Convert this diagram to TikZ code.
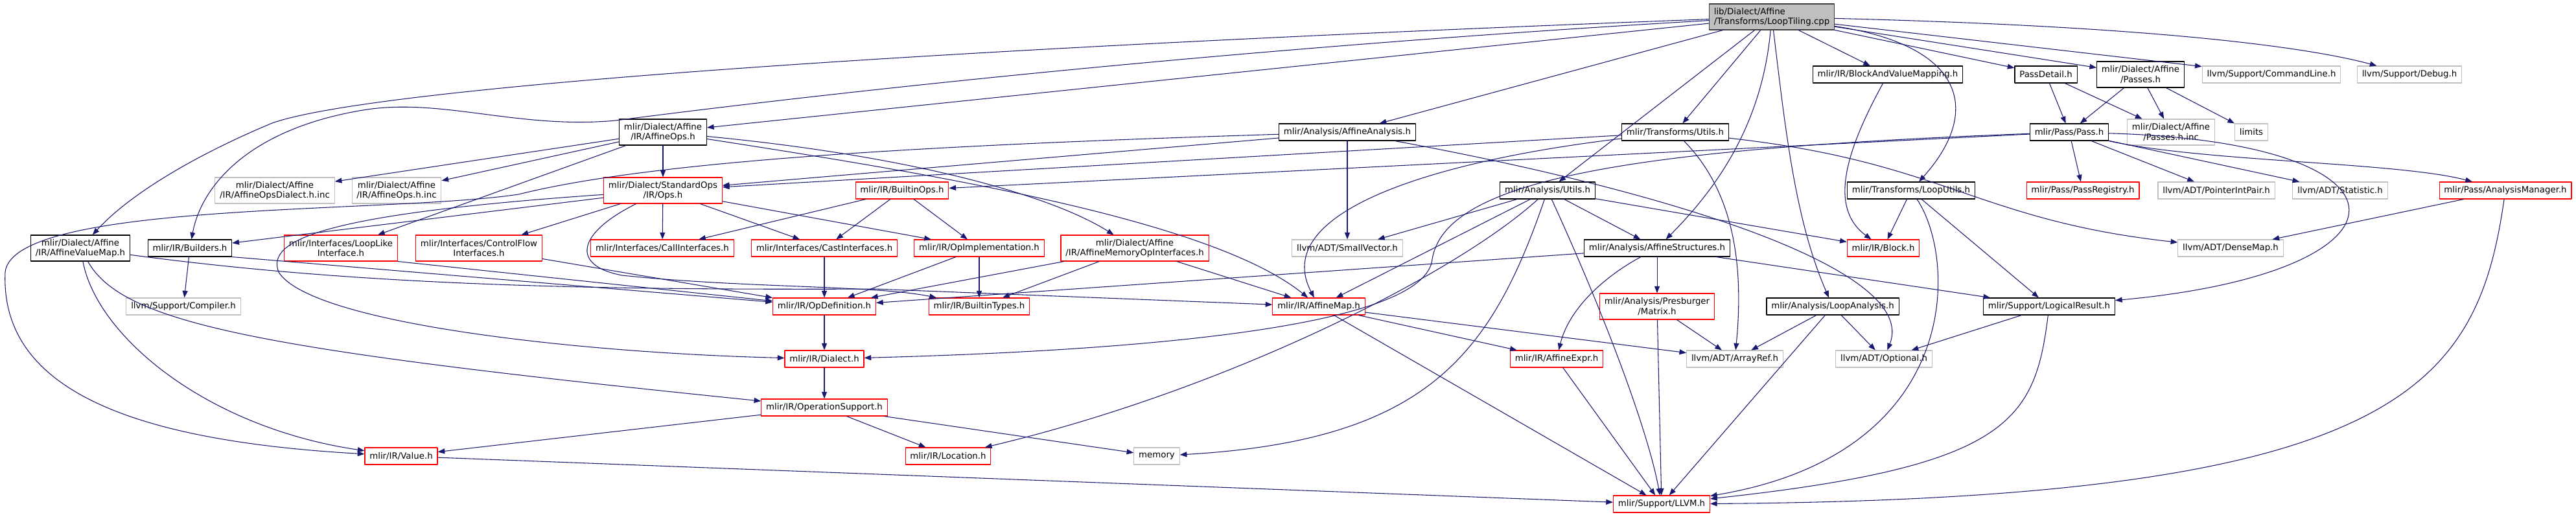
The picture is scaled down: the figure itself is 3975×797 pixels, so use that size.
\documentclass[tikz,border=0pt]{standalone}
\usepackage{fontspec}
\setmainfont{DejaVu Sans}
\usepackage{tikz}
\usetikzlibrary{arrows.meta}
\definecolor{edgeblue}{HTML}{191970}
\definecolor{extgrey}{HTML}{BFBFBF}
\definecolor{rootgrey}{HTML}{404040}
\definecolor{trred}{HTML}{FF0000}
\tikzset{
  every picture/.style={line join=round, line cap=round},
  incl/.style={draw=edgeblue, line width=0.8pt, -{Triangle[length=8pt,width=6pt]}},
  hdr/.style={draw, line width=0.8pt, inner xsep=5.5pt, inner ysep=0pt, minimum height=19.5pt, font=\fontsize{10pt}{11.5pt}\selectfont, align=center},
  doc/.style={hdr, draw=black},
  trunc/.style={hdr, draw=trred},
  ext/.style={hdr, draw=extgrey},
  file/.style={hdr, draw=rootgrey, fill=extgrey, align=left},
  two/.style={minimum height=30pt},
}

\begin{document}
\begin{tikzpicture}[x=0.75pt,y=-0.75pt]
\useasboundingbox (0,0) rectangle (3975,797);
\node[file,two] (root) at (2734,26) {lib/Dialect/Affine\\/Transforms/LoopTiling.cpp};
\node[doc,two] (avm) at (124,383) {mlir/Dialect/Affine\\/IR/AffineValueMap.h};
\node[doc] (builders) at (293,383) {mlir/IR/Builders.h};
\node[doc,two] (aops) at (1023,204) {mlir/Dialect/Affine\\/IR/AffineOps.h};
\node[ext,two] (aopsdialect) at (424,294) {mlir/Dialect/Affine\\/IR/AffineOpsDialect.h.inc};
\node[ext,two] (aopsinc) at (612,294) {mlir/Dialect/Affine\\/IR/AffineOps.h.inc};
\node[trunc,two] (stdops) at (1023,294) {mlir/Dialect/StandardOps\\/IR/Ops.h};
\node[trunc,two] (looplike) at (526,383) {mlir/Interfaces/LoopLike\\Interface.h};
\node[trunc,two] (controlflow) at (739,383) {mlir/Interfaces/ControlFlow\\Interfaces.h};
\node[trunc] (callif) at (1022,383) {mlir/Interfaces/CallInterfaces.h};
\node[trunc] (castif) at (1272,383) {mlir/Interfaces/CastInterfaces.h};
\node[ext] (compiler) at (283,473) {llvm/Support/Compiler.h};
\node[trunc] (opdef) at (1272,473) {mlir/IR/OpDefinition.h};
\node[trunc] (dialect) at (1272,554) {mlir/IR/Dialect.h};
\node[trunc] (opsupport) at (1272,629) {mlir/IR/OperationSupport.h};
\node[trunc] (value) at (619,704) {mlir/IR/Value.h};
\node[doc] (aa) at (2079,204) {mlir/Analysis/AffineAnalysis.h};
\node[doc] (tutils) at (2585,204) {mlir/Transforms/Utils.h};
\node[trunc] (builtinops) at (1392,294) {mlir/IR/BuiltinOps.h};
\node[trunc] (opimpl) at (1511,383) {mlir/IR/OpImplementation.h};
\node[trunc,two] (amoi) at (1751,383) {mlir/Dialect/Affine\\/IR/AffineMemoryOpInterfaces.h};
\node[ext] (smallvec) at (2079,383) {llvm/ADT/SmallVector.h};
\node[doc] (autils) at (2388,294) {mlir/Analysis/Utils.h};
\node[doc] (astruct) at (2557,383) {mlir/Analysis/AffineStructures.h};
\node[trunc] (builtintypes) at (1511,473) {mlir/IR/BuiltinTypes.h};
\node[trunc] (affmap) at (2035,473) {mlir/IR/AffineMap.h};
\node[trunc,two] (matrix) at (2557,473) {mlir/Analysis/Presburger\\/Matrix.h};
\node[trunc] (affexpr) at (2402,554) {mlir/IR/AffineExpr.h};
\node[ext] (arrayref) at (2677,554) {llvm/ADT/ArrayRef.h};
\node[trunc] (location) at (1463,704) {mlir/IR/Location.h};
\node[ext] (memory) at (1785,704) {memory};
\node[trunc] (llvm) at (2564,778) {mlir/Support/LLVM.h};
\node[doc] (bvm) at (2913,115) {mlir/IR/BlockAndValueMapping.h};
\node[doc] (passdetail) at (3157,115) {PassDetail.h};
\node[doc,two] (apasses) at (3303,115) {mlir/Dialect/Affine\\/Passes.h};
\node[ext] (cmdline) at (3505,115) {llvm/Support/CommandLine.h};
\node[ext] (debug) at (3718,115) {llvm/Support/Debug.h};
\node[doc] (pass) at (3193,204) {mlir/Pass/Pass.h};
\node[ext,two] (passesinc) at (3350,204) {mlir/Dialect/Affine\\/Passes.h.inc};
\node[ext] (limits) at (3474,204) {limits};
\node[doc] (looputils) at (2949,294) {mlir/Transforms/LoopUtils.h};
\node[trunc] (passreg) at (3214,294) {mlir/Pass/PassRegistry.h};
\node[ext] (pip) at (3420,294) {llvm/ADT/PointerIntPair.h};
\node[ext] (statistic) at (3611,294) {llvm/ADT/Statistic.h};
\node[trunc] (anamgr) at (3866,294) {mlir/Pass/AnalysisManager.h};
\node[trunc] (block) at (2906,383) {mlir/IR/Block.h};
\node[ext] (densemap) at (3442,383) {llvm/ADT/DenseMap.h};
\node[doc] (loopana) at (2828,473) {mlir/Analysis/LoopAnalysis.h};
\node[doc] (logres) at (3162,473) {mlir/Support/LogicalResult.h};
\node[ext] (optional) at (2907,554) {llvm/ADT/Optional.h};

\draw[incl] (root) .. controls (1300,80) and (560,140) .. (420,190) .. controls (300,240) and (200,300) .. (avm);
\draw[incl] (root) .. controls (1800,80) and (1150,160) .. (950,186) .. controls (800,200) and (680,150) .. (560,170) .. controls (380,200) and (310,290) .. (builders);
\draw[incl] (root) -- (aops);
\draw[incl] (root) -- (aa);
\draw[incl] (root) -- (tutils);
\draw[incl] (root) -- (autils);
\draw[incl] (root) .. controls (2720,180) and (2660,280) .. (astruct);
\draw[incl] (root) .. controls (2755,200) and (2770,340) .. (loopana);
\draw[incl] (root) .. controls (3030,70) and (3060,170) .. (looputils);
\draw[incl] (root) -- (bvm);
\draw[incl] (root) -- (passdetail);
\draw[incl] (root) -- (apasses);
\draw[incl] (root) -- (cmdline);
\draw[incl] (root) .. controls (3300,40) and (3550,70) .. (debug);

\draw[incl] (aops) -- (aopsdialect);
\draw[incl] (aops) -- (aopsinc);
\draw[incl] (aops) -- (stdops);
\draw[incl] (aops) -- (looplike);
\draw[incl] (aops) .. controls (1400,240) and (1620,300) .. (amoi);
\draw[incl] (aops) .. controls (1450,270) and (1870,340) .. (affmap);

\draw[incl] (stdops) -- (builders);
\draw[incl] (stdops) -- (controlflow);
\draw[incl] (stdops) -- (callif);
\draw[incl] (stdops) -- (castif);
\draw[incl] (stdops) -- (opimpl);
\draw[incl] (stdops) .. controls (500,330) and (410,370) .. (430,420) .. controls (480,500) and (900,545) .. (dialect);
\draw[incl] (stdops) .. controls (890,360) and (880,410) .. (960,425) .. controls (1150,445) and (1350,440) .. (builtintypes);

\draw[incl] (builtinops) -- (callif);
\draw[incl] (builtinops) -- (castif);
\draw[incl] (builtinops) -- (opimpl);
\draw[incl] (castif) -- (opdef);
\draw[incl] (opimpl) -- (opdef);
\draw[incl] (opimpl) -- (builtintypes);
\draw[incl] (amoi) -- (opdef);
\draw[incl] (amoi) -- (builtintypes);
\draw[incl] (amoi) -- (affmap);
\draw[incl] (looplike.south east) -- (opdef);
\draw[incl] (controlflow) -- (opdef);
\draw[incl] (builders.south east) -- (opdef);
\draw[incl] (builders) -- (compiler);

\draw[incl] (avm) .. controls (550,440) and (900,448) .. (1350,446) -- (affmap);
\draw[incl] (avm) .. controls (190,500) and (400,540) .. (opsupport);
\draw[incl] (avm) .. controls (150,520) and (320,660) .. (value);
\draw[incl] (opdef) -- (dialect);
\draw[incl] (dialect) -- (opsupport);
\draw[incl] (opsupport) -- (value);
\draw[incl] (opsupport) -- (location);
\draw[incl] (opsupport) -- (memory);
\draw[incl] (value) -- (llvm);

\draw[incl] (aa) .. controls (1400,225) and (1000,250) .. (800,300) .. controls (600,330) and (20,310) .. (8,420) .. controls (0,600) and (200,680) .. (value);
\draw[incl] (aa) -- (stdops);
\draw[incl] (aa) -- (smallvec);
\draw[incl] (aa) .. controls (2600,300) and (2960,420) .. (optional);

\draw[incl] (tutils) -- (stdops);
\draw[incl] (tutils) .. controls (2200,250) and (1960,330) .. (affmap);
\draw[incl] (tutils) .. controls (2680,300) and (2690,420) .. (arrayref);
\draw[incl] (tutils) .. controls (3000,250) and (3050,340) .. (densemap);

\draw[incl] (pass) -- (builtinops);
\draw[incl] (pass) .. controls (2500,230) and (2230,280) .. (2210,400) .. controls (2200,500) and (1800,540) .. (dialect);
\draw[incl] (pass) -- (passreg);
\draw[incl] (pass) -- (pip);
\draw[incl] (pass) -- (statistic);
\draw[incl] (pass) .. controls (3400,250) and (3700,250) .. (anamgr);
\draw[incl] (pass) .. controls (3750,220) and (3740,420) .. (logres);

\draw[incl] (passdetail) -- (pass);
\draw[incl] (passdetail) -- (passesinc);
\draw[incl] (apasses) -- (pass);
\draw[incl] (apasses) -- (passesinc);
\draw[incl] (apasses) -- (limits);
\draw[incl] (anamgr) -- (densemap);
\draw[incl] (anamgr) .. controls (3822,600) and (3700,770) .. (llvm);
\draw[incl] (logres) -- (optional);
\draw[incl] (logres) .. controls (3140,650) and (3100,720) .. (llvm);
\draw[incl] (loopana) -- (arrayref);
\draw[incl] (loopana) -- (optional);
\draw[incl] (loopana) -- (llvm);
\draw[incl] (looputils) -- (block);
\draw[incl] (looputils) .. controls (3020,400) and (3030,700) .. (llvm);
\draw[incl] (looputils) -- (logres);
\draw[incl] (bvm) .. controls (2850,230) and (2820,320) .. (block);

\draw[incl] (autils) -- (smallvec);
\draw[incl] (autils) -- (affmap);
\draw[incl] (autils) -- (astruct);
\draw[incl] (autils) -- (block);
\draw[incl] (autils) .. controls (2250,420) and (1900,600) .. (location);
\draw[incl] (autils) .. controls (2300,550) and (2200,680) .. (memory);
\draw[incl] (autils) .. controls (2460,450) and (2540,650) .. (llvm);
\draw[incl] (astruct) .. controls (2470,430) and (2420,480) .. (affexpr);
\draw[incl] (astruct) -- (matrix);
\draw[incl] (astruct) -- (opdef);
\draw[incl] (astruct) -- (logres);
\draw[incl] (matrix) -- (arrayref);
\draw[incl] (matrix) -- (llvm);
\draw[incl] (affmap) -- (affexpr);
\draw[incl] (affmap) -- (arrayref);
\draw[incl] (affmap) -- (llvm);
\draw[incl] (affexpr) -- (llvm);
\end{tikzpicture}
\end{document}
